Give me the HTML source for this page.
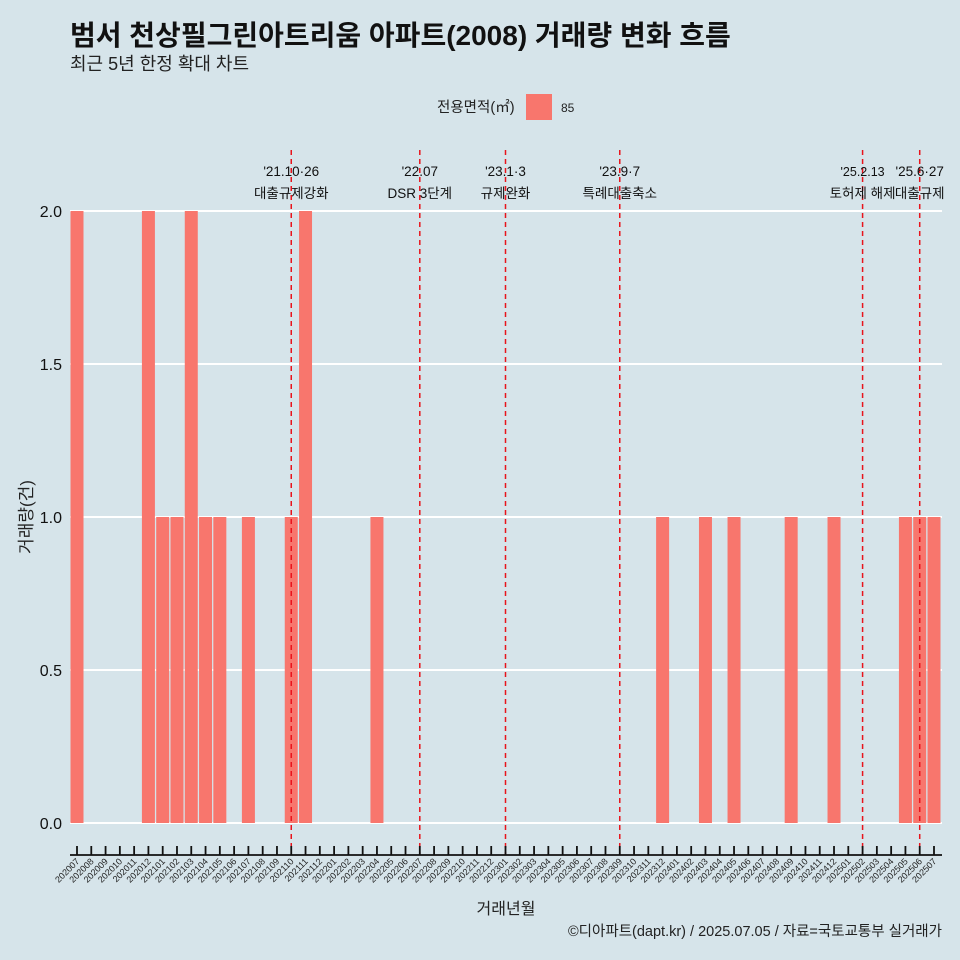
<!DOCTYPE html>
<html><head><meta charset="utf-8"><style>
body{margin:0;background:#d6e4ea;}
svg{display:block;font-family:"Liberation Sans","Noto Sans CJK KR",sans-serif;}
</style></head><body>
<svg id="c" width="960" height="960" viewBox="0 0 960 960">
<rect width="960" height="960" fill="#d6e4ea"/>
<text x="70" y="45" font-size="28" font-weight="bold" fill="#111">범서 천상필그린아트리움 아파트(2008) 거래량 변화 흐름</text>
<text x="70" y="70" font-size="18" fill="#222">최근 5년 한정 확대 차트</text>
<g>
<text x="437" y="112" font-size="14.5" fill="#222">전용면적(㎡)</text>
<rect x="526" y="94" width="26" height="26" fill="#f8766d"/>
<text x="561" y="112" font-size="12" fill="#222">85</text>
</g>
<g id="grid"></g><g id="bars"></g><g id="events"></g><g id="axes"></g>
<text x="32" y="517" font-size="17" fill="#222" transform="rotate(-90 32 517)" text-anchor="middle">거래량(건)</text>
<text x="506" y="914" font-size="16" fill="#222" text-anchor="middle">거래년월</text>
<text x="942" y="936" font-size="14.5" fill="#222" text-anchor="end">©디아파트(dapt.kr) / 2025.07.05 / 자료=국토교통부 실거래가</text>
</svg>
<script>
const categories=[];
for(let y=2020;y<=2025;y++)for(let m=1;m<=12;m++){const k=y*100+m;if(k>=202007&&k<=202507)categories.push(String(k));}
const values={"202007":2,"202012":2,"202101":1,"202102":1,"202103":2,"202104":1,"202105":1,"202107":1,"202110":1,"202111":2,"202204":1,"202312":1,"202403":1,"202405":1,"202409":1,"202412":1,"202505":1,"202506":1,"202507":1};
const yTicks=[0,0.5,1,1.5,2];
const yTickLabels=["0.0","0.5","1.0","1.5","2.0"];
const eventCats=["202110","202207","202301","202309","202502","202506"];
const eventDates=["'21.10·26","'22.07","'23.1·3","'23.9·7","'25.2.13","'25.6·27"];
const eventNames=["대출규제강화","DSR 3단계","규제완화","특례대출축소","토허제 해제","대출규제"];
const NS="http://www.w3.org/2000/svg";
const x0=77,step=(934-77)/60,bw=13;
const xs=c=>x0+categories.indexOf(c)*step;
const ys=v=>823-v*306;
function mk(p,t,a){const e=document.createElementNS(NS,t);for(const k in a)e.setAttribute(k,a[k]);document.getElementById(p).appendChild(e);return e;}
yTicks.forEach((v,i)=>{
 const l=mk('grid','line',{x1:70,x2:942,y1:ys(v),y2:ys(v),stroke:'#fff','stroke-width':2});
 
 
 const t=mk('axes','text',{x:62,y:ys(v)+6,'font-size':16,'text-anchor':'end',fill:'#111'});
 t.textContent=yTickLabels[i];
 
 
});
categories.forEach(c=>{
 const v=values[c]||0;
 if(v>0){const r=mk('bars','rect',{x:xs(c)-bw/2,y:ys(v),width:bw,height:ys(0)-ys(v),fill:'#f8766d'});
 
 }
 const tk=mk('axes','line',{x1:xs(c),x2:xs(c),y1:846,y2:855,stroke:'#111','stroke-width':1.8});
 
 
 const t=mk('axes','text',{x:xs(c)+3,y:862,'font-size':9,'text-anchor':'end',fill:'#222',transform:`rotate(-45 ${xs(c)+3} 862)`});
 t.textContent=c;
 
 
});
const ax=mk('axes','line',{x1:70,x2:942,y1:855,y2:855,stroke:'#111','stroke-width':1.8});


eventCats.forEach((c,i)=>{
 const x=xs(c);
 const l=mk('events','line',{x1:x,x2:x,y1:150,y2:855,stroke:'#e8141c','stroke-width':1.5,'stroke-dasharray':'5,4'});
 
 
 const t1=mk('events','text',{x:x,y:176,'font-size':i==4?12.5:13.5,'text-anchor':'middle',fill:'#111'});
 t1.textContent=eventDates[i];
 
 
 const t2=mk('events','text',{x:x,y:198,'font-size':13.5,'text-anchor':'middle',fill:'#111'});
 t2.textContent=eventNames[i];
 
 
});
</script>
</body></html>
